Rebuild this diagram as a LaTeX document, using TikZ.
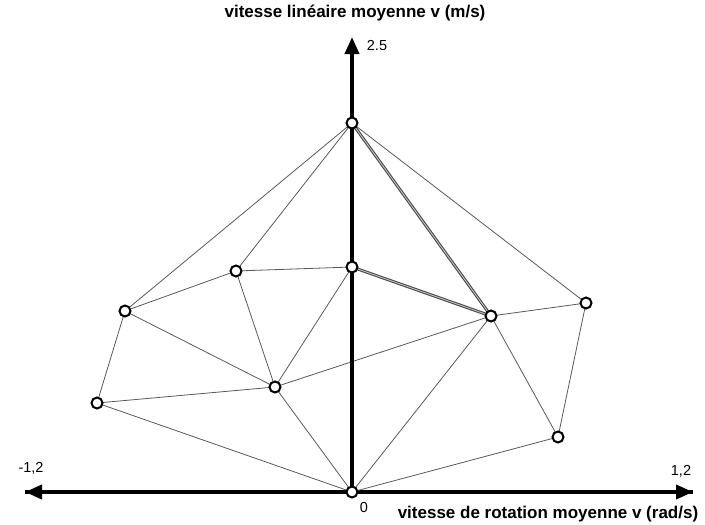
\documentclass[tikz,border=0pt]{standalone}
\usepackage{fontspec}
\setmainfont{Liberation Sans}
\usepackage{tikz}
\usetikzlibrary{arrows.meta,positioning}

\tikzset{
    vertex/.style={circle, draw=black, fill=white, line width=2pt, inner sep=0pt, minimum size=11pt},
    edge/.style={gray!70!black, line width=0.8pt},
    bold edge/.style={gray!60!black, line width=1.1pt, double=gray!45, double distance=0.8pt},
    axis/.style={line width=3.8pt, -{Triangle[length=17pt, width=14pt]}},
    axis label/.style={font=\bfseries\fontsize{17}{20}\selectfont},
    tick label/.style={font=\fontsize{14.5}{17}\selectfont}
}

\begin{document}
\begin{tikzpicture}[x=1pt, y=-1pt]
    \useasboundingbox (0,0) rectangle (705,525);
    % Axes
    \coordinate (xl) at (25,492);
    \coordinate (xr) at (693,492);
    \coordinate (yt) at (352,37);
    \coordinate (yb) at (352,492);
    \draw[axis] (xr) -- (xl);
    \draw[axis] (xl) -- (xr);
    % Vertices
    \coordinate (O) at (352,492);
    \coordinate (T) at (352,123);
    \coordinate (M) at (352,267);
    \coordinate (A) at (236,271);
    \coordinate (B) at (125,311);
    \coordinate (C) at (97,403);
    \coordinate (D) at (275,387);
    \coordinate (E) at (491,316);
    \coordinate (F) at (586,303);
    \coordinate (G) at (558,437);
    % Edges
    \foreach \u/\v in {T/B, T/A, T/F, M/A, M/D, A/B, A/D, B/C, B/D, C/D, C/O, D/O, D/E, E/O, E/F, E/G, F/G, G/O}
        \draw[edge] (\u) -- (\v);
    \draw[bold edge] (T) -- (E);
    \draw[bold edge] (M) -- (E);
    \draw[axis] (yb) -- (yt);
    % Vertex markers
    \foreach \p in {O, T, M, A, B, C, D, E, F, G}
        \node[vertex] (n\p) at (\p) {};
    % Labels
    \node[axis label] (ylab) at (355,13) {vitesse linéaire moyenne v (m/s)};
    \node[axis label] (xlab) at (548,514) {vitesse de rotation moyenne v (rad/s)};
    \node[tick label] (ymax) at (377,46) {2.5};
    \node[tick label] (xmin) at (31,468) {-1,2};
    \node[tick label] (xmax) at (681,471) {1,2};
    \node[tick label] (zero) at (364,508) {0};
\end{tikzpicture}
\end{document}
